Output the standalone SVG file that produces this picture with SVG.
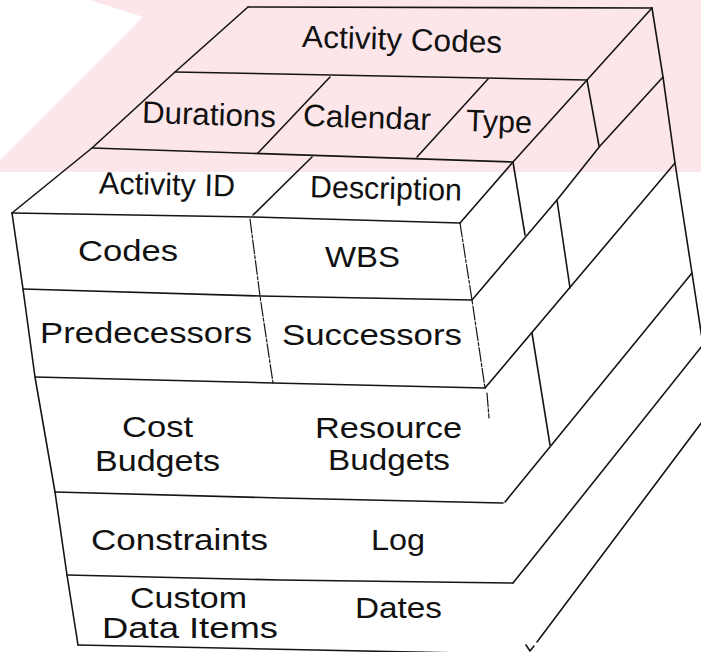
<svg xmlns="http://www.w3.org/2000/svg" width="701" height="652" viewBox="0 0 701 652">
<style>
.ln{fill:none;stroke:#151515;stroke-width:1.6;stroke-linejoin:round;stroke-linecap:round}
.dl{fill:none;stroke:#151515;stroke-width:1.2;stroke-dasharray:14 2 3 2;stroke-linecap:round}
.tt{font-family:"Liberation Sans",Arial,Helvetica,sans-serif;font-size:31px;fill:#111}
.ft{font-family:"Liberation Sans",Arial,Helvetica,sans-serif;font-size:30px;fill:#111}
.wm{fill:#fce6ea}
</style>
<rect x="0" y="0" width="701" height="652" fill="#ffffff"/>
<g id="watermark">
<path class="wm" d="M90,0 L701,0 L701,172 L0,172 L0,160 L143,17 Z"/>
</g>
<g id="connectors">
<path class="ln" d="M248,7 L652,8"/>
<path class="ln" d="M248,7 L175,72 L92,148 L12,213"/>
<path class="ln" d="M175,72 L587,80"/>
<path class="ln" d="M92,148 L513,162"/>
<path class="ln" d="M12,213 L253,217 L460,223"/>
<path class="ln" d="M652,8 L587,80 L513,162 L460,223"/>
<path class="ln" d="M330,77 L258,153"/>
<path class="ln" d="M488,79 L417,157"/>
<path class="ln" d="M312,157 L253,215"/>
<path class="ln" d="M12,213 L23,289 L35,377 L55,492 L67,575 L78,645"/>
<path class="ln" d="M23,289 L260,296 L472,300"/>
<path class="ln" d="M35,377 L273,383 L485,388"/>
<path class="ln" d="M55,492 L280,498 L503,503"/>
<path class="ln" d="M67,575 L280,580 L513,583"/>
<path class="ln" d="M78,645 L460,653"/>
<path class="dl" d="M250,219 L260,296 L273,383"/>
<path class="dl" d="M460,223 L472,300 L485,388"/>
<path class="dl" d="M487,393 L489,418"/>
<path class="ln" d="M652,8 L663,77 L675,163 L692,273 L703,345"/>
<path class="ln" d="M663,77 L600,146 L557,200 L472,300"/>
<path class="ln" d="M587,80 L599,146"/>
<path class="ln" d="M513,162 L525,235"/>
<path class="ln" d="M675,163 L485,388"/>
<path class="ln" d="M557,200 L570,288"/>
<path class="ln" d="M532,333 L550,445"/>
<path class="ln" d="M692,273 L505,502"/>
<path class="ln" d="M702,346 L513,583"/>
<path class="ln" d="M702,422 L537,642"/>
<path class="ln" d="M526,645 L530,651 L534,646"/>
</g>
<g id="activity-codes"><text class="tt" x="302" y="50" textLength="200" lengthAdjust="spacingAndGlyphs" font-size="30" transform="rotate(1.7 402 44)">Activity Codes</text></g>
<g id="durations"><text class="tt" x="142" y="125" textLength="134" lengthAdjust="spacingAndGlyphs" font-size="33" transform="rotate(1.9 209 115)">Durations</text></g>
<g id="calendar"><text class="tt" x="303" y="128" textLength="128" lengthAdjust="spacingAndGlyphs" font-size="33" transform="rotate(1.9 367 118)">Calendar</text></g>
<g id="type"><text class="tt" x="466" y="132" textLength="66" lengthAdjust="spacingAndGlyphs" font-size="33" transform="rotate(1.9 499 122)">Type</text></g>
<g id="activity-id"><text class="tt" x="99" y="195" textLength="136" lengthAdjust="spacingAndGlyphs" font-size="30" transform="rotate(1.3 167 185)">Activity ID</text></g>
<g id="description"><text class="tt" x="310" y="199" textLength="152" lengthAdjust="spacingAndGlyphs" font-size="30" transform="rotate(1.3 387 189)">Description</text></g>
<g id="codes"><text class="ft" x="78" y="261" textLength="100" lengthAdjust="spacingAndGlyphs">Codes</text></g>
<g id="wbs"><text class="ft" x="325" y="267" textLength="75" lengthAdjust="spacingAndGlyphs">WBS</text></g>
<g id="predecessors"><text class="ft" x="40" y="343" textLength="212" lengthAdjust="spacingAndGlyphs">Predecessors</text></g>
<g id="successors"><text class="ft" x="282" y="345" textLength="180" lengthAdjust="spacingAndGlyphs">Successors</text></g>
<g id="cost-budgets"><text class="ft" x="122" y="437" textLength="71" lengthAdjust="spacingAndGlyphs">Cost</text><text class="ft" x="95" y="471" textLength="125" lengthAdjust="spacingAndGlyphs">Budgets</text></g>
<g id="resource-budgets"><text class="ft" x="315" y="438" textLength="147" lengthAdjust="spacingAndGlyphs">Resource</text><text class="ft" x="328" y="470" textLength="122" lengthAdjust="spacingAndGlyphs">Budgets</text></g>
<g id="constraints"><text class="ft" x="91" y="550" textLength="177" lengthAdjust="spacingAndGlyphs">Constraints</text></g>
<g id="log"><text class="ft" x="371" y="550" textLength="54" lengthAdjust="spacingAndGlyphs">Log</text></g>
<g id="custom-data-items"><text class="ft" x="130" y="608" textLength="117" lengthAdjust="spacingAndGlyphs">Custom</text><text class="ft" x="102" y="638" textLength="176" lengthAdjust="spacingAndGlyphs">Data Items</text></g>
<g id="dates"><text class="ft" x="355" y="618" textLength="87" lengthAdjust="spacingAndGlyphs">Dates</text></g>
</svg>
